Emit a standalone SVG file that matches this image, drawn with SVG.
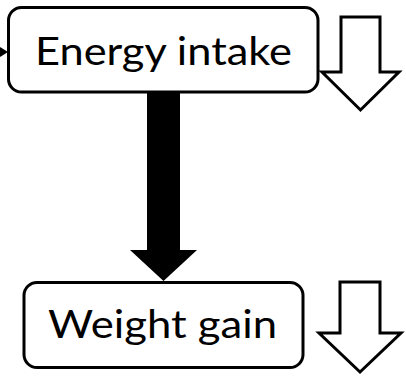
<svg xmlns="http://www.w3.org/2000/svg" width="406" height="376" viewBox="0 0 406 376">
<style>
.box{fill:#fff;stroke:#000;stroke-width:3}
.lbl{font-family:Lato,"Open Sans","Liberation Sans",sans-serif;font-size:38px;fill:#000}
.hollow{fill:#fff;stroke:#000;stroke-width:3;stroke-linejoin:miter}
</style>
<rect width="406" height="376" fill="#fff"/>
<g id="connectors">
<polygon points="0,47 8,52 0,57" fill="#000"/>
<polygon points="147,92 180,92 180,250 197,250 163.5,281 130,250 147,250" fill="#000"/>
</g>
<g id="energy-intake">
<rect class="box" x="8.5" y="7.5" width="309.5" height="84.5" rx="13"/>
<text class="lbl" x="35" y="65" textLength="257" lengthAdjust="spacingAndGlyphs">Energy intake</text>
</g>
<g id="energy-intake-down">
<polygon class="hollow" points="341,17 380,17 380,72 399,72 360.5,110 322,72 341,72"/>
</g>
<g id="weight-gain">
<rect class="box" x="24" y="282.5" width="279" height="85" rx="13"/>
<text class="lbl" x="48" y="338" textLength="229" lengthAdjust="spacingAndGlyphs">Weight gain</text>
</g>
<g id="weight-gain-down">
<polygon class="hollow" points="340,282 380,282 380,333 401,333 360,372 319,333 340,333"/>
</g>
</svg>
